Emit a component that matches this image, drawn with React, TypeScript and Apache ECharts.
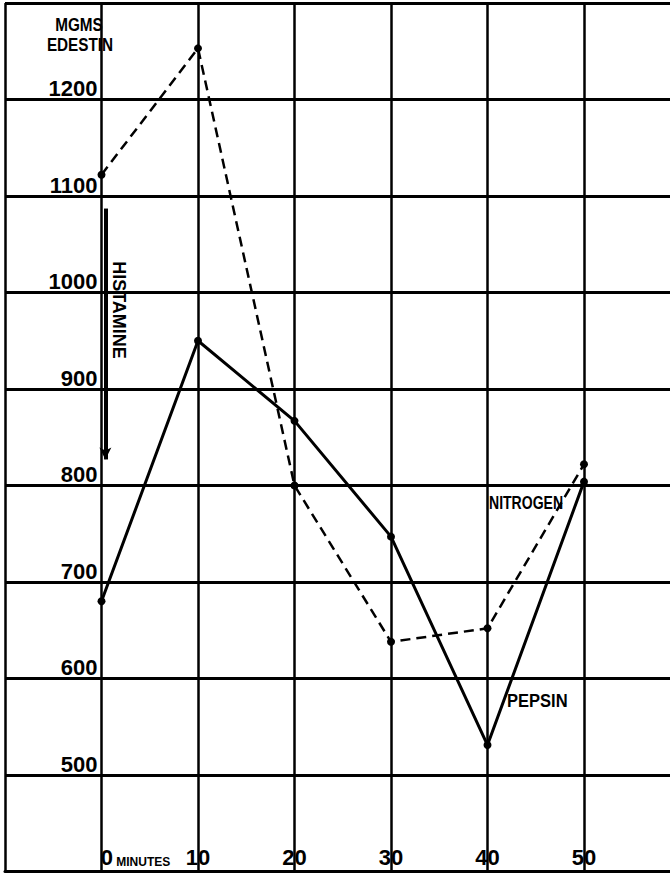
import React, { useEffect, useRef } from "react";
import * as echarts from "echarts";

// ---- data ----
const minutes = [0, 10, 20, 30, 40, 50];
const nitrogen = [1122, 1253, 800, 638, 652, 822];
const pepsin = [680, 950, 867, 747, 531, 804];
const yTickLabels = ["500", "600", "700", "800", "900", "1000", "1100", "1200"];
const xTickLabels = ["0", "10", "20", "30", "40", "50"];
const xUnit = "MINUTES";
const yTitle = ["MGMS", "EDESTIN"];
const histamineLabel = "HISTAMINE";
const histamineAt = [0.4];
const histamineFromTo = [1087, 827];
const seriesNames = ["NITROGEN", "PEPSIN"];

const FONT = "'Liberation Sans', Arial, sans-serif";

export default function App() {
  const ref = useRef<HTMLDivElement>(null);
  useEffect(() => {
    if (!ref.current) return;
    const chart = echarts.init(ref.current, undefined, { renderer: "svg" });
    const textEl = (text: string, x: number, y: number, size: number, sx: number, extra: any = {}) => ({
      type: "text",
      x,
      y,
      scaleX: sx,
      scaleY: 1,
      z: 10,
      ...extra,
      style: {
        text,
        fill: "#000",
        fontFamily: FONT,
        fontWeight: "bold",
        fontSize: size,
        align: "left",
        verticalAlign: "middle",
        ...(extra.style || {}),
      },
    });
    const option: any = {
      animation: false,
      backgroundColor: "#ffffff",
      grid: { left: 5, top: 3, width: 675.5, height: 868.5, containLabel: false, outerBoundsMode: "none" },
      xAxis: {
        type: "value",
        min: -10,
        max: 60,
        interval: 10,
        axisLine: { show: true, onZero: false, lineStyle: { color: "#000", width: 3 } },
        axisTick: { show: false },
        splitLine: { show: true, lineStyle: { color: "#000", width: 2.5 } },
        axisLabel: {
          inside: true,
          margin: 3,
          color: "#000",
          fontFamily: FONT,
          fontWeight: "bold",
          fontSize: 22,
          formatter: (v: number) => {
            const s = String(v);
            if (!xTickLabels.includes(s)) return "";
            if (v === 0) return `{pad| }{n|${s}}{m| ${xUnit}}`;
            return `{n|${s}}`;
          },
          rich: {
            pad: { width: 68, fontSize: 22, fontFamily: FONT, verticalAlign: "bottom" },
            n: { fontSize: 22, fontWeight: "bold", fontFamily: FONT, color: "#000", verticalAlign: "bottom" },
            m: { fontSize: 12, fontWeight: "bold", fontFamily: FONT, color: "#000", verticalAlign: "bottom", padding: [0, 0, 1, 0] },
          },
        },
      },
      yAxis: {
        type: "value",
        min: 400,
        max: 1300,
        interval: 100,
        offset: -96.5,
        axisLine: { show: false, onZero: false },
        axisTick: { show: false },
        splitLine: { show: true, lineStyle: { color: "#000", width: 3 } },
        axisLabel: {
          margin: 4,
          verticalAlign: "bottom",
          color: "#000",
          fontFamily: FONT,
          fontWeight: "bold",
          fontSize: 22,
          formatter: (v: number) => (yTickLabels.includes(String(v)) ? String(v) : ""),
        },
      },
      series: [
        {
          name: seriesNames[0],
          type: "line",
          data: minutes.map((m, i) => [m, nitrogen[i]]),
          symbol: "circle",
          symbolSize: 8,
          itemStyle: { color: "#000" },
          lineStyle: { color: "#000", width: 2.5, type: [10, 6] },
          z: 5,
        },
        {
          name: seriesNames[1],
          type: "line",
          data: minutes.map((m, i) => [m, pepsin[i]]),
          symbol: "circle",
          symbolSize: 8,
          itemStyle: { color: "#000" },
          lineStyle: { color: "#000", width: 3, type: "solid" },
          z: 5,
          markLine: {
            silent: true,
            symbol: ["none", "arrow"],
            symbolSize: [9, 12],
            label: { show: false },
            lineStyle: { color: "#000", width: 4, type: "solid" },
            data: [[{ coord: [histamineAt[0], histamineFromTo[0]] }, { coord: [histamineAt[0], histamineFromTo[1]] }]],
          },
        },
      ],
      graphic: [
        textEl(yTitle[0], 79, 25, 18, 0.85, { style: { align: "center" } }),
        textEl(yTitle[1], 80, 45, 18, 0.85, { style: { align: "center" } }),
        textEl(histamineLabel, 119, 310, 18, 1, { rotation: -Math.PI / 2, style: { align: "center" } }),
        textEl(seriesNames[0], 489, 502, 18, 0.78),
        textEl(seriesNames[1], 507, 701, 19, 0.87),
      ],
    };
    chart.setOption(option);
    return () => chart.dispose();
  }, []);
  return (
    <div
      ref={ref}
      style={{ position: "fixed", left: 0, top: 0, width: 670, height: 873, background: "#fff" }}
    />
  );
}
